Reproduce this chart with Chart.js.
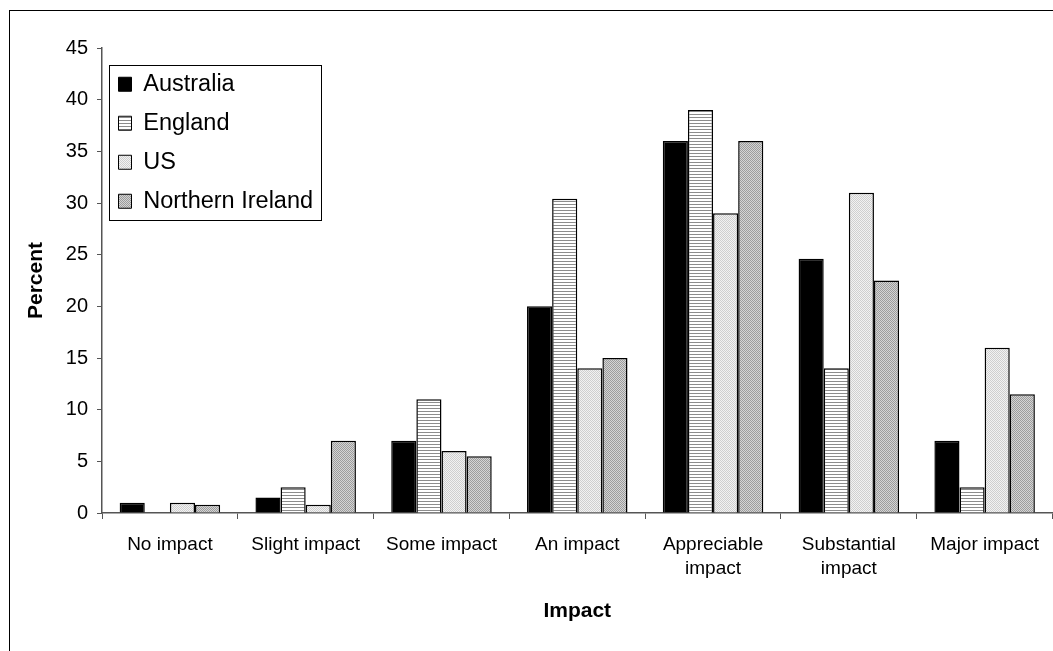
<!DOCTYPE html>
<html>
<head>
<meta charset="utf-8">
<script src="https://cdn.jsdelivr.net/npm/chart.js@4"></script>
<style>
  html, body { margin: 0; padding: 0; background: #fff; overflow: hidden; }
  #wrap { position: relative; width: 1053px; height: 651px; }
  #frame { position: absolute; left: 9px; top: 10px; width: 1100px; height: 700px; border: 1px solid #000; }
  canvas { position: absolute; left: 0; top: 0; }
</style>
</head>
<body>
<div id="wrap">
  <div id="frame"></div>
  <canvas id="barChart" width="1053" height="651"></canvas>
</div>
<script>
// categories and series (percent)
const categories = ['No impact', 'Slight impact', 'Some impact', 'An impact',
  ['Appreciable', 'impact'], ['Substantial', 'impact'], 'Major impact'];
const australia = [1, 1.5, 7, 20, 36, 24.6, 7];
const england = [0, 2.5, 11, 30.4, 39, 14, 2.5];
const us = [1, 0.8, 6, 14, 29, 31, 16];
const northernIreland = [0.8, 7, 5.5, 15, 36, 22.5, 11.5];
const yTicks = [0, 5, 10, 15, 20, 25, 30, 35, 40, 45];

// fill patterns like the old excel chart
function makePattern(size, draw) {
  const c = document.createElement('canvas');
  c.width = size; c.height = size;
  const g = c.getContext('2d');
  draw(g);
  return g.createPattern(c, 'repeat');
}
const stripes = makePattern(3, g => {
  g.fillStyle = '#ffffff'; g.fillRect(0, 0, 3, 3);
  g.fillStyle = '#8c8c8c'; g.fillRect(0, 0, 3, 1);
});
const lightDots = makePattern(2, g => {
  g.fillStyle = '#f2f2f2'; g.fillRect(0, 0, 2, 2);
  g.fillStyle = '#cfcfcf'; g.fillRect(0, 0, 1, 1); g.fillRect(1, 1, 1, 1);
});
const darkDots = makePattern(2, g => {
  g.fillStyle = '#d4d4d4'; g.fillRect(0, 0, 2, 2);
  g.fillStyle = '#9c9c9c'; g.fillRect(0, 0, 1, 1); g.fillRect(1, 1, 1, 1);
});

// box round the legend
const legendFrame = {
  id: 'legendFrame',
  afterLayout(chart) {
    chart.legend.top = chart.chartArea.top + 9;
    chart.legend.left = chart.chartArea.left + 1;
  },
  afterDraw(chart) {
    const boxes = chart.legend.legendHitBoxes;
    if (!boxes || !boxes.length) return;
    let l = Infinity, t = Infinity, r = -Infinity, b = -Infinity;
    boxes.forEach(h => {
      l = Math.min(l, h.left); t = Math.min(t, h.top);
      r = Math.max(r, h.left + h.width); b = Math.max(b, h.top + h.height);
    });
    const ctx = chart.ctx;
    ctx.save();
    ctx.strokeStyle = '#000';
    ctx.lineWidth = 1;
    ctx.strokeRect(Math.round(l - 10) + 0.5, Math.round(t - 8) + 0.5,
      Math.round(r - l + 17), Math.round(b - t + 14));
    ctx.restore();
  }
};

const font = 'Liberation Sans, Arial, sans-serif';
const ctx = document.getElementById('barChart').getContext('2d');
const chart = new Chart(ctx, {
  type: 'bar',
  data: {
    labels: categories,
    datasets: [
      { label: 'Australia', data: australia, backgroundColor: '#000000' },
      { label: 'England', data: england, backgroundColor: stripes },
      { label: 'US', data: us, backgroundColor: lightDots },
      { label: 'Northern Ireland', data: northernIreland, backgroundColor: darkDots }
    ].map(d => Object.assign(d, {
      borderColor: '#000', borderWidth: 1.5, borderSkipped: 'bottom',
      categoryPercentage: 0.74, barPercentage: 1.0
    }))
  },
  options: {
    responsive: false,
    animation: false,
    devicePixelRatio: 1,
    layout: { padding: { top: 48, right: 0, bottom: 0, left: 0 } },
    plugins: {
      legend: {
        position: 'chartArea',
        align: 'start',
        labels: {
          color: '#000',
          font: { family: font, size: 23.5 },
          boxWidth: 13, boxHeight: 14,
          padding: 15.5,
          generateLabels(chart) {
            return chart.data.datasets.map((d, i) => ({
              text: d.label, fillStyle: d.backgroundColor, strokeStyle: '#000',
              lineWidth: 1, datasetIndex: i, hidden: false
            }));
          }
        }
      },
      tooltip: { enabled: false }
    },
    scales: {
      x: {
        afterFit: s => { s.height = 138; },
        grid: { drawOnChartArea: false, tickLength: 6, color: '#555', offset: true },
        border: { color: '#555', width: 1.5 },
        ticks: { color: '#000', font: { family: font, size: 19, lineHeight: 1.25 }, padding: 14, maxRotation: 0, autoSkip: false },
        title: { display: true, text: 'Impact', color: '#000',
          font: { family: font, size: 21, weight: 'bold' }, padding: { bottom: 27 } }
      },
      y: {
        min: 0, max: 45,
        afterFit: s => { s.width = 102; },
        afterBuildTicks: s => { s.ticks = yTicks.map(v => ({ value: v })); },
        grid: { drawOnChartArea: false, tickLength: 5, color: '#555' },
        border: { color: '#555', width: 1.5 },
        ticks: { color: '#000', font: { family: font, size: 20 }, padding: 9 },
        title: { display: true, text: 'Percent', color: '#000',
          font: { family: font, size: 21, weight: 'bold' }, padding: { top: 24 } }
      }
    }
  },
  plugins: [legendFrame]
});
</script>
</body>
</html>
